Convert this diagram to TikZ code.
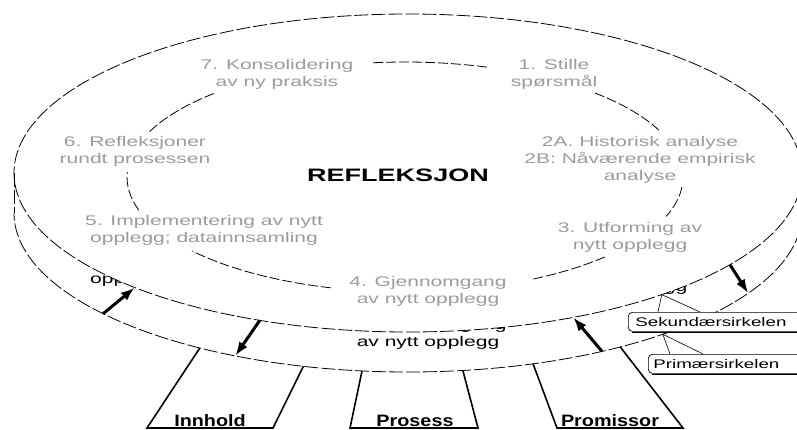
\documentclass[tikz,border=0pt]{standalone}
\usepackage{fontspec}
\setmainfont{Liberation Sans}
\newfontfamily\widefont[FakeStretch=1.5]{Liberation Sans}
\newfontfamily\legfont[FakeStretch=1.2]{Liberation Sans}
\usetikzlibrary{arrows.meta}
\definecolor{lbl}{RGB}{155,155,155}
\begin{document}
\begin{tikzpicture}[x=1pt,y=-1pt,
  lab/.style={font=\widefont\fontsize{14}{17}\selectfont, text=lbl, align=center, inner sep=0pt},
  hid/.style={font=\widefont\fontsize{14}{17}\selectfont, text=black, align=center, inner sep=0pt},
  rim/.style={line width=0.8pt, dash pattern=on 14pt off 3pt},
  ring/.style={line width=0.8pt, dash pattern=on 10pt off 3pt},
  leg/.style={line width=1.6pt},
  flow/.style={line width=3pt, -{Latex[length=14pt,width=10pt]}},
  tag/.style={draw, rounded corners=4pt, fill=white, line width=0.7pt,
    font=\widefont\fontsize{12.5}{15}\selectfont, align=left,
    minimum height=19pt, inner ysep=2pt, anchor=north west},
  pointer/.style={line width=0.6pt},
  legtxt/.style={font=\legfont\bfseries\fontsize{16.5}{18}\selectfont, inner sep=0pt, anchor=base},
  title/.style={font=\widefont\bfseries\fontsize{18}{20}\selectfont, inner sep=0pt}
]
\useasboundingbox (0,0) rectangle (797,429);
\fill[white] (0,0) rectangle (797,429);
\clip (0,0) rectangle (797,429);

% centres of the ellipses
\coordinate (E1) at (408,173);
\coordinate (E2) at (408,213);
\coordinate (E3) at (405,177);

% labels of the lower disk (mostly hidden by the upper disk)
\node[hid] (h5) at (204,280) {opplegg; datainnsamling};
\node[hid] (h3) at (630,279) {3. Utforming av\\nytt opplegg};
\node[hid] (h4) at (428,334) {4. Gjennomgang\\av nytt opplegg};

% upper disk covers them
\fill[white] (E1) ellipse [x radius=394, y radius=159];

% named points
\path (E1) ++(180:394 and 159) coordinate (e1w);
\path (E2) ++(180:394 and 159) coordinate (e2w);

% upper disk outline
\draw[rim] (E1) ellipse [x radius=394, y radius=159];
% lower disk outline
\draw[rim] (E2) ++(0:394 and 159) arc[start angle=0, end angle=180, x radius=394, y radius=159];
\draw[rim] (e1w) -- (e2w);

% inner cycle arcs
\draw[ring] (E3) ++(-96.6:278 and 115) arc[start angle=-96.6, end angle=-72.6, x radius=278, y radius=115];
\draw[ring] (E3) ++(-46.9:278 and 115) arc[start angle=-46.9, end angle=-24, x radius=278, y radius=115];
\draw[ring] (E3) ++(5:278 and 115) arc[start angle=5, end angle=20, x radius=278, y radius=115];
\draw[ring] (E3) ++(44:278 and 115) arc[start angle=44, end angle=63, x radius=278, y radius=115];
\draw[ring] (E3) ++(105.5:278 and 115) arc[start angle=105.5, end angle=140, x radius=278, y radius=115];
\draw[ring] (E3) ++(163.2:278 and 115) arc[start angle=163.2, end angle=182.5, x radius=278, y radius=115];
\draw[ring] (E3) ++(203.3:278 and 115) arc[start angle=203.3, end angle=227.2, x radius=278, y radius=115];

% step labels
\node[lab] (s7) at (277,74) {7. Konsolidering\\av ny praksis};
\node[lab] (s1) at (554,74) {1. Stille\\spørsmål};
\node[lab] (s2) at (640,160) {2A. Historisk analyse\\2B: Nåværende empirisk\\analyse};
\node[lab] (s3) at (630,237) {3. Utforming av\\nytt opplegg};
\node[lab] (s4) at (428,291) {4. Gjennomgang\\av nytt opplegg};
\node[lab] (s5) at (204,230) {5. Implementering av nytt\\opplegg; datainnsamling};
\node[lab] (s6) at (135,151) {6. Refleksjoner\\rundt prosessen};
\node[title] (ref) at (398,175) {REFLEKSJON};

% points on the disk edges for the arrows
\path (E2) ++(140.7:394 and 159) coordinate (b1);
\path (E1) ++(133.9:394 and 159) coordinate (a1);
\path (E1) ++(112.1:394 and 159) coordinate (a2);
\path (E2) ++(116:394 and 159) coordinate (b2);
\path (E2) ++(60.5:394 and 159) coordinate (b3);
\path (E1) ++(65.2:394 and 159) coordinate (a3);
\path (E1) ++(35.2:394 and 159) coordinate (a4);
\path (E2) ++(30.3:394 and 159) coordinate (b4);
\draw[flow] (b1) -- (a1);
\draw[flow] (a2) -- (b2);
\draw[flow] (b3) -- (a3);
\draw[flow] (a4) -- (b4);

% legs
\path (E2) ++(121.9:394 and 159) coordinate (i1);
\path (E2) ++(105.4:394 and 159) coordinate (i2);
\path (E2) ++(96.7:394 and 159) coordinate (p1);
\path (E2) ++(82:394 and 159) coordinate (p2);
\path (E2) ++(71.5:394 and 159) coordinate (r1);
\path (E2) ++(57.4:394 and 159) coordinate (r2);
\coordinate (i3) at (147,428); \coordinate (i4) at (273,428);
\coordinate (p3) at (350,428); \coordinate (p4) at (478,428);
\coordinate (r3) at (557,428); \coordinate (r4) at (683,428);
\draw[leg] (i1) -- (i3) -- (i4) -- (i2);
\draw[leg] (p1) -- (p3) -- (p4) -- (p2);
\draw[leg] (r1) -- (r3) -- (r4) -- (r2);
\node[legtxt] (inn) at (210,426) {Innhold};
\node[legtxt] (pro) at (415,426) {Prosess};
\node[legtxt] (prm) at (610,426) {Promissor};

% callouts
\path (E1) ++(49.9:394 and 159) coordinate (ca);
\path (E2) ++(49.7:394 and 159) coordinate (cb);
\node[tag, text width=165pt, inner xsep=7pt] (sek) at (628,312) {Sekundærsirkelen};
\node[tag, text width=146pt, inner xsep=5pt] (pri) at (648,354) {Primærsirkelen};
\draw[line width=1.6pt] ([xshift=4pt,yshift=-0.6pt]sek.south west) -- ([yshift=-0.6pt]sek.south east);
\draw[line width=1.6pt] ([xshift=4pt,yshift=-0.6pt]pri.south west) -- ([yshift=-0.6pt]pri.south east);
\draw[pointer] (ca) -- ([xshift=30pt]sek.north west);
\draw[pointer] (ca) -- ([xshift=72pt]sek.north west);
\draw[pointer] (cb) -- ([xshift=22pt]pri.north west);
\draw[pointer] (cb) -- ([xshift=55pt]pri.north west);
\end{tikzpicture}
\end{document}
